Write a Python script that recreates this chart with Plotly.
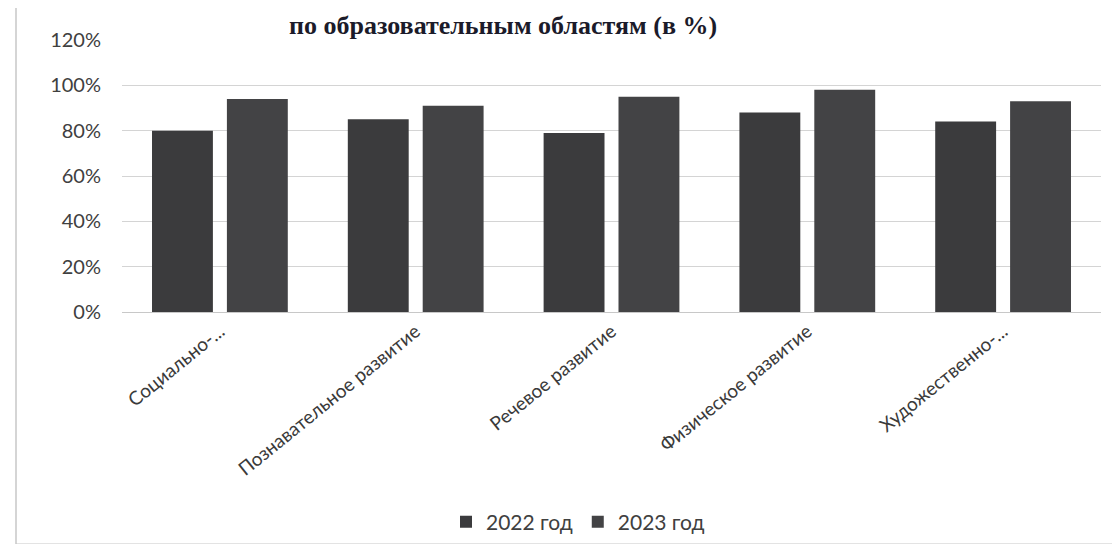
import plotly.graph_objects as go

categories = ["Социально-...", "Познавательное развитие", "Речевое развитие",
              "Физическое развитие", "Художественно-..."]
values_2022 = [0.80, 0.85, 0.79, 0.88, 0.84]
values_2023 = [0.94, 0.91, 0.95, 0.98, 0.93]
series_names = ["2022 год", "2023 год"]
title_text = "по образовательным областям (в %)"
y_ticks = [0, 0.2, 0.4, 0.6, 0.8, 1.0, 1.2]

W, H = 1120, 544
L, R, T, B = 114, 27, 32, 239
pw, ph = W - L - R, H - T - B

def px_x(p):
    return (p - L) / pw

def px_y(p):
    return (H - B - p) / ph

fig = go.Figure()
fig.add_trace(go.Bar(x=categories, y=values_2022, name=series_names[0],
                     marker=dict(color="#3b3b3d", line=dict(width=0))))
fig.add_trace(go.Bar(x=categories, y=values_2023, name=series_names[1],
                     marker=dict(color="#434345", line=dict(width=0))))

font_main = "Lato, 'Open Sans', sans-serif"

fig.update_layout(
    width=W, height=H,
    margin=dict(l=L, r=R, t=T, b=B),
    paper_bgcolor="white", plot_bgcolor="white",
    barmode="group", bargap=0.235, bargroupgap=0.187,
    showlegend=True,
    legend=dict(orientation="h", x=px_x(570), xanchor="center", y=px_y(514), yanchor="middle",
                font=dict(family=font_main, size=21, color="#404040"),
                itemwidth=30, traceorder="normal"),
    xaxis=dict(tickangle=-39, tickfont=dict(family=font_main, size=19, color="#3a3a3a"),
               showgrid=False, showline=True, linecolor="#c8c8c8", linewidth=1,
               ticks=""),
    yaxis=dict(range=[0, 1.2], tickvals=y_ticks, tickformat=".0%",
               tickfont=dict(family=font_main, size=20, color="#404040"),
               showgrid=True, gridcolor="#d4d4d4", gridwidth=1,
               zeroline=False, showline=False, ticks="", ticklabelstandoff=20),
)

fig.add_annotation(text=title_text, xref="paper", yref="paper",
                   x=px_x(495), y=px_y(1), xanchor="center", yanchor="top",
                   showarrow=False,
                   font=dict(family="'Liberation Serif', serif", size=26, color="#1b1b2a"))
fig.update_annotations(font_weight="bold")

fig.add_shape(type="rect", xref="paper", yref="paper",
              x0=px_x(8), x1=px_x(1115), y0=px_y(538), y1=px_y(-20),
              line=dict(color="#c8c8c8", width=1.5), layer="below")

fig.write_html("out.html")
